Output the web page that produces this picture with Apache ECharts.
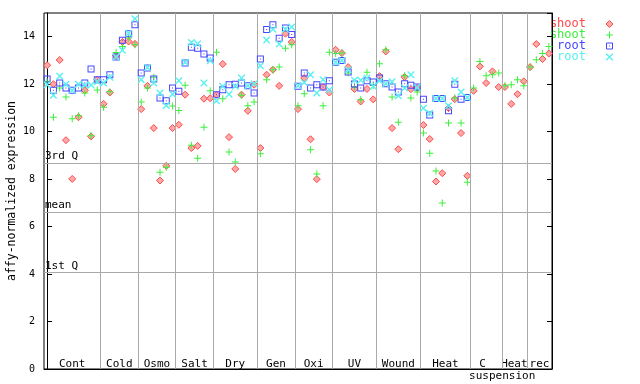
<!DOCTYPE html>
<html>
<head>
<meta charset="utf-8">
<script src="https://cdn.jsdelivr.net/npm/echarts@6/dist/echarts.min.js"></script>
<style>html,body{margin:0;padding:0;background:#fff}#c{width:640px;height:384px}</style>
</head>
<body>
<div id="c"></div>
<script>
// ---- data ----
var groupNames = ["Cont","Cold","Osmo","Salt","Dry","Gen","Oxi","UV","Wound","Heat","C","Heat","rec"];
var groupSizes = [9,6,6,6,7,6,6,7,7,8,5,4,4];
var subLabel = "suspension";
var yTicks = [0,2,4,6,8,10,12,14];
var refLines = [8.68, 6.61, 4.08];
var refNames = ["3rd Q", "mean", "1st Q"];
var seriesNames = ["shoot","shoot","root","root"];

var shootRed = [12.8,12.0,13.02,9.64,8.01,10.61,11.74,9.8,12.19,
 11.17,11.65,13.2,13.78,13.8,13.7,
 10.95,11.93,10.15,7.94,8.56,10.15,
 10.29,11.56,9.31,9.4,11.39,11.41,
 11.56,12.85,9.77,8.43,11.56,10.88,11.98,
 9.31,12.4,12.61,11.93,14.13,13.78,
 10.95,12.26,9.68,8.0,11.88,11.65,
 13.45,13.31,12.72,11.8,11.27,11.8,11.36,
 12.34,13.38,10.15,9.26,12.3,11.79,11.84,
 10.28,9.69,7.9,8.25,10.99,11.37,9.94,8.14,
 11.72,12.75,12.05,12.54,11.88,
 11.88,11.17,11.58,12.12,
 12.72,13.69,13.06,13.29];
var shootGreen = [12.12,10.61,11.84,11.46,10.54,10.67,11.63,9.83,11.76,
 11.03,11.68,13.34,13.59,13.95,13.66,
 11.25,11.84,12.29,8.29,8.5,11.08,
 10.89,11.96,9.43,8.88,10.19,11.72,
 13.35,11.39,9.14,8.72,11.53,11.09,11.25,
 9.07,12.19,12.61,12.72,13.52,13.66,
 11.09,11.6,9.24,8.22,11.09,13.35,
 13.29,13.31,12.47,11.88,11.34,12.5,11.95,
 12.86,13.45,11.46,10.4,12.36,11.42,11.67,
 9.94,9.09,8.34,6.99,10.36,11.42,10.36,7.87,
 11.84,12.96,12.36,12.4,12.47,
 11.93,11.98,12.19,11.93,
 12.72,13.03,13.29,13.59];
var rootBlue = [12.22,11.75,12.05,11.84,11.74,11.84,12.05,12.64,12.19,
 12.19,12.4,13.15,13.85,14.13,14.5,
 12.47,12.68,12.22,11.42,11.3,11.84,
 11.7,12.89,13.56,13.52,13.27,13.1,
 11.56,11.77,11.98,12.0,12.05,11.93,11.63,
 13.06,14.3,14.51,13.94,14.37,14.09,
 11.91,12.47,11.84,11.98,11.88,12.15,
 12.92,13.0,12.51,12.01,11.84,12.15,12.09,
 12.26,12.02,11.88,11.67,12.02,11.96,11.88,
 11.37,10.7,11.4,11.4,10.88,12.0,11.37,11.44];
var rootCyan = [11.98,11.53,12.33,12.0,11.75,12.0,11.96,11.97,12.1,
 12.05,12.29,13.15,13.43,14.15,14.76,
 12.19,12.7,12.05,11.63,11.1,11.58,
 12.15,12.92,13.76,13.7,12.05,12.99,
 11.3,11.91,11.58,11.91,12.26,11.93,12.02,
 12.78,13.86,14.32,13.69,14.32,14.41,
 11.93,12.07,12.4,11.63,12.19,11.77,
 12.92,13.0,12.61,12.17,12.17,12.26,11.91,
 12.15,12.02,12.1,11.51,11.84,12.4,11.86,
 10.99,10.78,11.4,11.4,11.09,12.15,11.67,11.44];

// ---- styles ----
var FONT = '"DejaVu Sans Mono", monospace';
var RED = '#ff4a4a', GREEN = '#3cf03c', BLUE = '#4646ff', CYAN = '#5af0f0';
var SYM_PLUS = 'path://M3,0h1v7h-1z M0,3h7v1h-7z';
var SYM_SQUARE = 'path://M0,0h7v7h-7z M1,1v5h5v-5z M3,3h1v1h-1z';
var SYM_X = 'path://M0,0L1,0L7,6L7,7L6,7L0,1Z M6,0L7,0L7,1L1,7L0,7L0,6Z';
var symbols = ['diamond', SYM_PLUS, SYM_SQUARE, SYM_X];
var colors = [RED, GREEN, BLUE, CYAN];
var nPoints = groupSizes.reduce(function(a,b){return a+b;},0);

function toXY(arr){ return arr.map(function(v,i){ return [i, v]; }); }

var boundaries = [];
var centers = [];
var acc = 0;
groupSizes.forEach(function(s, k){
  centers.push(acc + (s - 1) / 2);
  acc += s;
  if (k < groupSizes.length - 1) boundaries.push(acc - 0.5);
});

var markData = boundaries.map(function(b){ return {xAxis: b}; });
refLines.forEach(function(v){ markData.push({yAxis: v}); });

var dataSets = [shootRed, shootGreen, rootBlue, rootCyan];
var series = dataSets.map(function(arr, k){
  var s = {
    type: 'scatter',
    name: seriesNames[k],
    data: toXY(arr),
    symbol: symbols[k],
    symbolSize: 7,
    itemStyle: {color: colors[k], opacity: 1},
    emphasis: {disabled: true},
    silent: true,
    z: 3 + k
  };
  if (k === 0) {
    s.itemStyle = {color: '#ffa8a8', borderColor: RED, borderWidth: 1, opacity: 1};
  }
  return s;
});
series[0].markLine = {
  silent: true,
  symbol: ['none','none'],
  animation: false,
  lineStyle: {color: '#aaaaaa', width: 1, type: 'solid'},
  label: {show: false},
  emphasis: {disabled: true},
  data: markData
};

var chart = echarts.init(document.getElementById('c'), null, {renderer: 'canvas'});
chart.setOption({
  animation: false,
  backgroundColor: '#fff',
  grid: {left: 44, top: 13, right: 88, bottom: 15, show: true, borderColor: '#000', borderWidth: 1, containLabel: false},
  xAxis: {type: 'value', min: -0.5, max: nPoints - 0.5, show: true,
    axisLine: {show: true, lineStyle: {color: '#000'}}, axisTick: {show: false}, axisLabel: {show: false}, splitLine: {show: false}},
  yAxis: [
    {type: 'value', min: 0, max: 15, interval: 2,
      axisLine: {show: true, lineStyle: {color: '#000'}},
      axisTick: {show: true, inside: true, length: 5, lineStyle: {color: '#000'}},
      axisLabel: {show: true, color: '#000', fontFamily: FONT, fontSize: 10, margin: 9, showMaxLabel: false,
        formatter: function(v){ return yTicks.indexOf(v) >= 0 ? String(v) : ''; }},
      splitLine: {show: false}},
    {type: 'value', min: 0, max: 15, interval: 2, position: 'right',
      axisLine: {show: true, lineStyle: {color: '#000'}},
      axisTick: {show: true, inside: true, length: 5, lineStyle: {color: '#000'}},
      axisLabel: {show: false}, splitLine: {show: false}}
  ],
  series: series
});

// group labels, axis title and legend
var g = [];
groupNames.forEach(function(name, k){
  var p = chart.convertToPixel({gridIndex: 0}, [centers[k], 0]);
  var dx = (k === 10) ? -3.5 : 0;
  g.push({type: 'text', x: p[0] + dx, y: 364, silent: true,
    style: {text: name, fill: '#000', font: '11px ' + FONT, textAlign: 'center', textVerticalAlign: 'middle'}});
  if (k === 10) {
    g.push({type: 'text', x: p[0] + 16, y: 376, silent: true,
      style: {text: subLabel, fill: '#000', font: '11px ' + FONT, textAlign: 'center', textVerticalAlign: 'middle'}});
  }
});
g.push({type: 'text', x: 12, y: 191, rotation: Math.PI / 2, silent: true,
  style: {text: 'affy-normalized expression', fill: '#000', font: '11.5px ' + FONT, textAlign: 'center', textVerticalAlign: 'middle'}});
seriesNames.forEach(function(name, k){
  var yy = 24 + k * 11;
  g.push({type: 'text', x: 586, y: yy, silent: true,
    style: {text: name, fill: colors[k], font: '12px ' + FONT, textAlign: 'right', textVerticalAlign: 'middle'}});
});
refLines.forEach(function(v, k){
  var p = chart.convertToPixel({yAxisIndex: 0}, v);
  g.push({type: 'text', x: 45, y: p - 1, silent: true,
    style: {text: refNames[k], fill: '#000', font: '11px ' + FONT, textAlign: 'left', textVerticalAlign: 'bottom'}});
});

// legend markers built from simple shapes
function legendMarker(k, cx, cy){
  var x0 = cx - 3.5, y0 = cy - 3.5, c = colors[k], kids = [];
  if (k === 0) {
    kids.push({type: 'polygon', shape: {points: [[cx, y0],[x0+7, cy],[cx, y0+7],[x0, cy]]}, style: {fill: '#ffa8a8', stroke: c, lineWidth: 1}});
  } else if (k === 1) {
    kids.push({type: 'rect', shape: {x: x0+3, y: y0, width: 1, height: 7}, style: {fill: c}});
    kids.push({type: 'rect', shape: {x: x0, y: y0+3, width: 7, height: 1}, style: {fill: c}});
  } else if (k === 2) {
    kids.push({type: 'rect', shape: {x: x0+0.5, y: y0+0.5, width: 6, height: 6}, style: {fill: 'none', stroke: c, lineWidth: 1}});
    kids.push({type: 'rect', shape: {x: x0+3, y: y0+3, width: 1, height: 1}, style: {fill: c}});
  } else {
    kids.push({type: 'polygon', shape: {points: [[x0,y0],[x0+1,y0],[x0+7,y0+6],[x0+7,y0+7],[x0+6,y0+7],[x0,y0+1]]}, style: {fill: c}});
    kids.push({type: 'polygon', shape: {points: [[x0+6,y0],[x0+7,y0],[x0+7,y0+1],[x0+1,y0+7],[x0,y0+7],[x0,y0+6]]}, style: {fill: c}});
  }
  return {type: 'group', silent: true, children: kids};
}
seriesNames.forEach(function(name, k){
  g.push(legendMarker(k, 609.5, 24 + k * 11));
});
chart.setOption({graphic: g});
</script>
</body>
</html>
